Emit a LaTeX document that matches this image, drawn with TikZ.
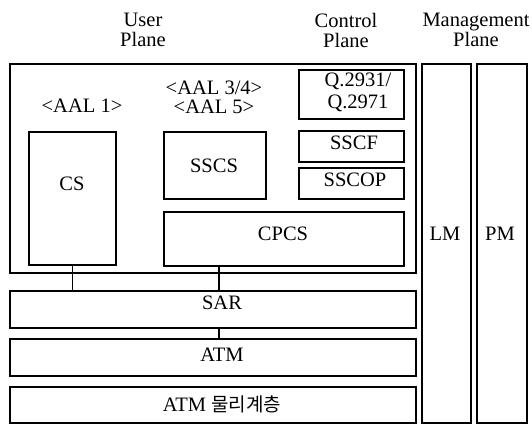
\documentclass[tikz,border=0pt]{standalone}
\usepackage{fontspec}
\setmainfont{Liberation Serif}
\newfontfamily\krfont{Noto Sans CJK KR}
\begin{document}
\begin{tikzpicture}[x=1pt,y=-1pt,
  box/.style={draw, line width=1.6pt, inner sep=0pt, anchor=north west},
  lbl/.style={inner sep=0pt, font=\fontsize{20.5}{20}\selectfont, align=center},
  conn/.style={line width=1.6pt}]
\useasboundingbox (0,0) rectangle (532,424);
% headings
\node[lbl] (userpl) at (143,30) {User\\Plane};
\node[lbl] (ctrlpl) at (346,30) {Control\\Plane};
\node[lbl] (mgmtpl) at (476,30) {Management\\Plane};
% boxes
\node[box, minimum width=406pt, minimum height=209pt] (outer) at (9,63) {};
\node[box, minimum width=87pt, minimum height=133pt] (cs) at (28,131) {};
\node[box, minimum width=102pt, minimum height=67pt] (sscs) at (163,131) {};
\node[box, minimum width=240pt, minimum height=54pt] (cpcs) at (163,211) {};
\node[box, minimum width=105pt, minimum height=49pt] (q) at (298,69) {};
\node[box, minimum width=105pt, minimum height=31pt] (sscf) at (298,130) {};
\node[box, minimum width=105pt, minimum height=31pt] (sscop) at (298,167) {};
\node[box, minimum width=406pt, minimum height=37pt] (sar) at (9,290) {};
\node[box, minimum width=406pt, minimum height=37pt] (atm) at (9,338) {};
\node[box, minimum width=406pt, minimum height=36pt] (phy) at (9,386) {};
\node[box, minimum width=49pt, minimum height=359pt] (lm) at (421,63) {};
\node[box, minimum width=50pt, minimum height=359pt] (pm) at (476,63) {};
% labels
\node[lbl] (aal1) at (82,106) {<AAL 1>};
\node[lbl, font=\fontsize{20.5}{19}\selectfont] (aal34) at (214,97) {<AAL 3/4>\\<AAL 5>};
\node[lbl] (cstxt) at (72,184) {CS};
\node[lbl] (sscstxt) at (214,166) {SSCS};
\node[lbl] (cpcstxt) at (283,234) {CPCS};
\node[lbl, font=\fontsize{20.5}{22}\selectfont] (qtxt) at (358,92) {Q.2931/\\Q.2971};
\node[lbl] (sscftxt) at (354,143) {SSCF};
\node[lbl] (sscoptxt) at (355,180) {SSCOP};
\node[lbl] (sartxt) at (222,303) {SAR};
\node[lbl] (atmtxt) at (222,355) {ATM};
\node[lbl] (phytxt) at (222,404) {ATM {\krfont\fontsize{19}{18}\selectfont 물리계층}};
\node[lbl] (lmtxt) at (445,234) {LM};
\node[lbl] (pmtxt) at (500,234) {PM};
% connectors
\draw[conn] (cs.south) -- (cs.south |- sar.north);
\path (cpcs.south west) ++(56,0) coordinate (cpcsout);
\draw[conn] (cpcsout) -- (cpcsout |- sar.north);
\path (sar.south west) ++(210,0) coordinate (sarout);
\draw[conn] (sarout) -- (sarout |- atm.north);
\end{tikzpicture}
\end{document}
